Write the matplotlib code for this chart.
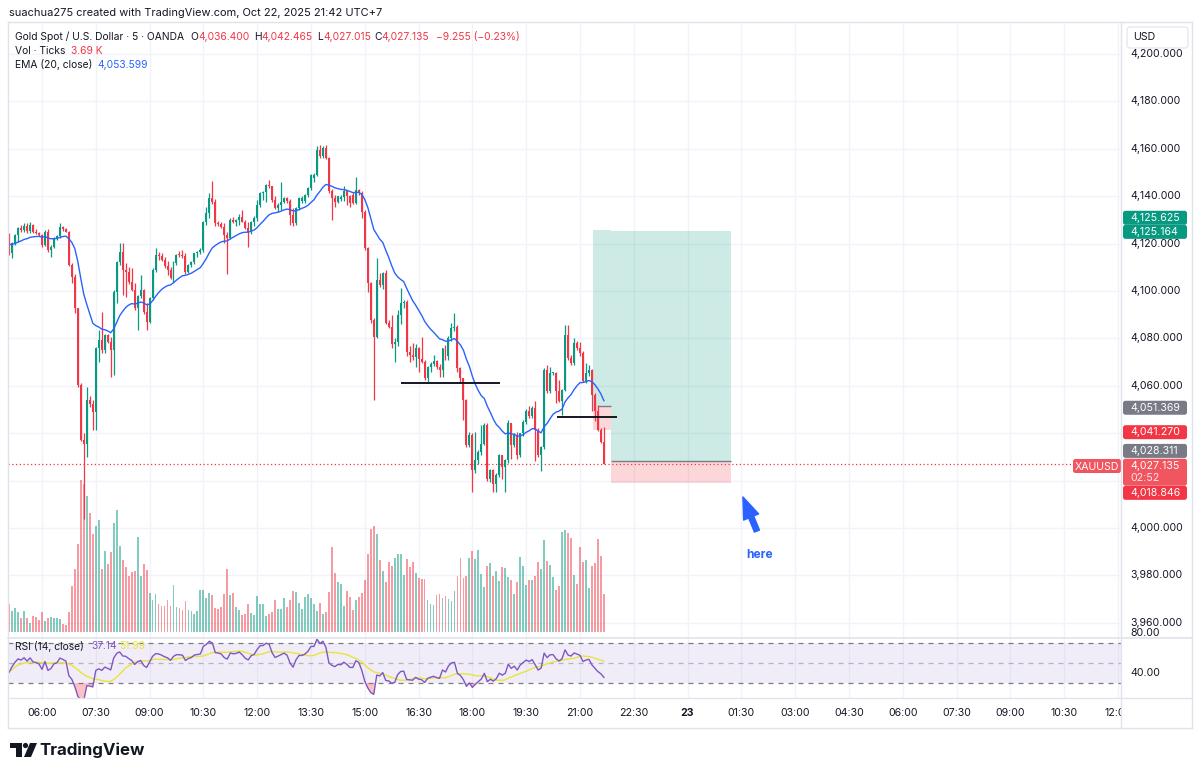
import numpy as np
import pandas as pd
import matplotlib
matplotlib.use('Agg')
import matplotlib.pyplot as plt
from matplotlib.patches import Rectangle, FancyBboxPatch, Circle, Polygon

plt.rcParams['font.family'] = ['Inter', 'DejaVu Sans']

# ---------------- data (XAUUSD 5m, OANDA, 22 Oct 2025, bars from 05:05) ----------------
opens = [4123.7, 4116.0, 4120.1, 4123.5, 4126.5, 4125.6, 4127.6, 4125.2, 4127.8, 4125.0,
         4124.4, 4123.5, 4119.5, 4125.0, 4117.3, 4118.7, 4122.3, 4123.2, 4127.2, 4126.2,
         4125.0, 4111.0, 4106.0, 4092.7, 4060.3, 4037.0, 4035.5, 4054.0, 4052.5, 4049.0,
         4075.8, 4079.3, 4075.1, 4081.4, 4078.6, 4075.1, 4099.7, 4112.4, 4116.6, 4108.9,
         4108.2, 4104.0, 4100.5, 4092.7, 4098.0, 4100.4, 4091.3, 4087.0, 4096.9, 4108.9,
         4115.2, 4114.8, 4113.0, 4110.5, 4109.0, 4105.4, 4112.0, 4115.2, 4115.0, 4114.6,
         4108.2, 4111.0, 4112.4, 4115.9, 4116.6, 4117.3, 4129.3, 4132.8, 4139.2, 4137.7,
         4128.6, 4128.2, 4127.2, 4123.7, 4122.3, 4130.0, 4129.3, 4129.8, 4131.4, 4129.3,
         4126.5, 4125.0, 4129.3, 4130.7, 4136.3, 4141.3, 4141.6, 4144.8, 4144.1, 4138.5,
         4134.9, 4136.3, 4137.7, 4139.2, 4137.8, 4132.1, 4128.6, 4134.9, 4138.0, 4138.0,
         4140.6, 4143.4, 4147.5, 4149.0, 4159.6, 4156.8, 4160.3, 4156.1, 4142.0, 4139.2,
         4137.7, 4139.0, 4139.6, 4142.0, 4140.0, 4140.5, 4137.0, 4142.7, 4141.3, 4133.5,
         4118.0, 4103.2, 4087.7, 4080.7, 4104.6, 4102.5, 4107.5, 4086.3, 4085.0, 4077.5,
         4078.6, 4089.9, 4094.8, 4095.5, 4074.4, 4073.0, 4072.0, 4075.8, 4071.5, 4070.1,
         4063.1, 4068.0, 4069.4, 4070.5, 4068.0, 4066.5, 4075.8, 4072.5, 4080.0, 4084.2,
         4084.9, 4067.3, 4063.1, 4053.9, 4035.0, 4039.2, 4024.4, 4028.6, 4032.1, 4035.6,
         4043.4, 4020.8, 4024.4, 4018.7, 4022.3, 4030.7, 4025.8, 4028.6, 4044.1, 4035.0,
         4039.2, 4030.7, 4039.9, 4044.8, 4049.5, 4047.1, 4050.6, 4041.5, 4030.9, 4034.0,
         4066.7, 4057.6, 4065.3, 4065.6, 4057.6, 4053.4, 4058.3, 4081.4, 4071.6, 4069.5,
         4077.9, 4075.8, 4073.7, 4062.0, 4065.3, 4066.7, 4056.2, 4049.2, 4041.5, 4036.4]
highs = [4124.5, 4120.5, 4124.0, 4127.2, 4128.0, 4128.6, 4128.6, 4129.0, 4128.2, 4126.0,
         4125.0, 4124.0, 4125.8, 4126.0, 4119.2, 4122.8, 4123.7, 4128.6, 4127.5, 4126.5,
         4125.3, 4112.0, 4107.0, 4093.0, 4061.0, 4040.0, 4059.6, 4055.5, 4054.0, 4076.5,
         4083.5, 4091.3, 4082.0, 4082.0, 4080.5, 4100.5, 4112.8, 4120.1, 4120.1, 4112.0,
         4110.0, 4109.6, 4103.5, 4098.3, 4106.8, 4101.0, 4095.0, 4097.5, 4109.5, 4118.0,
         4116.5, 4116.0, 4114.5, 4112.5, 4110.0, 4112.5, 4115.5, 4117.0, 4117.3, 4115.9,
         4111.5, 4112.5, 4116.0, 4117.0, 4118.0, 4129.5, 4135.6, 4141.5, 4146.5, 4139.0,
         4129.5, 4129.0, 4128.5, 4125.0, 4131.0, 4131.4, 4130.5, 4132.5, 4134.2, 4130.0,
         4129.3, 4129.5, 4131.5, 4138.5, 4141.8, 4142.0, 4145.0, 4147.0, 4144.5, 4140.0,
         4137.0, 4145.8, 4139.5, 4139.5, 4139.0, 4135.0, 4135.5, 4139.5, 4140.0, 4141.0,
         4143.8, 4149.5, 4150.0, 4161.0, 4161.7, 4161.0, 4161.7, 4156.5, 4143.0, 4140.6,
         4140.0, 4140.5, 4144.1, 4142.7, 4140.5, 4141.8, 4148.3, 4143.0, 4142.0, 4134.0,
         4118.5, 4104.0, 4088.5, 4113.8, 4107.5, 4108.2, 4109.0, 4087.7, 4090.0, 4080.0,
         4092.0, 4101.1, 4096.0, 4096.0, 4077.0, 4078.0, 4077.5, 4076.5, 4080.7, 4071.0,
         4068.5, 4070.0, 4073.0, 4071.0, 4069.0, 4076.0, 4077.2, 4081.0, 4086.3, 4090.6,
         4085.5, 4068.0, 4063.5, 4054.5, 4040.6, 4040.0, 4040.6, 4033.0, 4043.4, 4044.1,
         4044.5, 4025.0, 4025.0, 4023.0, 4031.4, 4031.0, 4029.3, 4045.5, 4044.5, 4040.0,
         4040.5, 4040.2, 4045.5, 4050.4, 4051.3, 4051.3, 4053.4, 4042.2, 4034.4, 4067.5,
         4068.8, 4068.1, 4066.0, 4066.0, 4062.5, 4058.5, 4085.6, 4085.6, 4073.0, 4080.0,
         4079.0, 4078.6, 4074.5, 4069.5, 4068.8, 4067.0, 4057.0, 4052.0, 4042.0, 4042.465]
lows = [4115.0, 4114.1, 4119.5, 4120.8, 4125.0, 4125.0, 4124.5, 4124.5, 4124.5, 4124.0,
        4123.0, 4118.5, 4119.0, 4116.6, 4114.5, 4118.0, 4121.5, 4122.5, 4125.5, 4124.7,
        4110.5, 4103.2, 4090.6, 4059.5, 4036.5, 4004.0, 4030.0, 4051.0, 4041.3, 4041.3,
        4070.0, 4074.0, 4074.0, 4078.0, 4063.8, 4064.5, 4094.8, 4111.0, 4098.3, 4097.6,
        4103.0, 4100.0, 4092.0, 4083.5, 4097.0, 4090.5, 4083.5, 4086.5, 4096.0, 4108.0,
        4113.0, 4112.5, 4109.5, 4106.8, 4105.0, 4104.0, 4111.0, 4114.5, 4114.0, 4107.0,
        4107.5, 4110.0, 4111.5, 4114.5, 4115.5, 4116.5, 4128.0, 4131.0, 4136.5, 4127.5,
        4127.5, 4126.5, 4120.1, 4107.0, 4122.0, 4128.6, 4127.5, 4128.0, 4129.0, 4126.0,
        4118.7, 4124.0, 4127.5, 4129.5, 4135.5, 4138.5, 4137.5, 4143.5, 4137.5, 4134.5,
        4133.5, 4134.0, 4137.0, 4137.2, 4127.9, 4127.5, 4128.0, 4134.0, 4137.0, 4137.0,
        4139.5, 4142.5, 4146.0, 4148.5, 4156.0, 4156.0, 4155.5, 4141.5, 4130.0, 4135.6,
        4137.0, 4138.0, 4138.0, 4136.3, 4135.6, 4136.5, 4136.5, 4140.5, 4130.7, 4117.5,
        4099.7, 4086.5, 4054.0, 4080.0, 4101.5, 4101.0, 4086.0, 4084.2, 4076.0, 4070.1,
        4077.0, 4086.0, 4093.0, 4072.5, 4070.1, 4071.0, 4068.0, 4066.0, 4069.5, 4062.5,
        4061.7, 4066.0, 4068.5, 4067.0, 4063.8, 4063.8, 4071.0, 4071.0, 4079.0, 4083.0,
        4066.0, 4061.7, 4045.5, 4034.0, 4034.0, 4015.2, 4023.0, 4027.0, 4031.0, 4035.0,
        4020.0, 4019.5, 4015.2, 4015.2, 4021.5, 4020.8, 4015.2, 4027.5, 4029.3, 4034.0,
        4029.3, 4030.0, 4039.0, 4044.0, 4046.5, 4046.4, 4028.1, 4030.0, 4023.9, 4033.5,
        4057.0, 4057.0, 4064.6, 4052.7, 4053.0, 4047.8, 4058.0, 4071.0, 4068.8, 4068.8,
        4075.0, 4072.5, 4061.8, 4061.0, 4064.0, 4049.2, 4045.0, 4040.8, 4036.0, 4027.015]
closes = [4116.0, 4120.1, 4123.7, 4126.5, 4125.6, 4127.6, 4125.2, 4127.8, 4125.0, 4124.4,
          4123.5, 4119.5, 4125.0, 4117.3, 4118.7, 4122.3, 4123.2, 4127.2, 4126.2, 4125.0,
          4111.0, 4106.0, 4092.7, 4060.3, 4037.0, 4035.5, 4054.0, 4052.5, 4049.0, 4075.8,
          4079.3, 4075.1, 4081.4, 4078.6, 4075.1, 4099.7, 4112.4, 4116.6, 4108.9, 4108.2,
          4104.0, 4100.5, 4092.7, 4098.0, 4100.4, 4091.3, 4087.0, 4096.9, 4108.9, 4115.2,
          4114.8, 4113.0, 4110.5, 4109.0, 4105.4, 4112.0, 4115.2, 4115.0, 4114.6, 4108.2,
          4111.0, 4112.4, 4115.9, 4116.6, 4117.3, 4129.3, 4132.8, 4139.2, 4137.7, 4128.6,
          4128.2, 4127.2, 4123.7, 4122.3, 4130.0, 4129.3, 4129.8, 4131.4, 4129.3, 4126.5,
          4125.0, 4129.3, 4130.7, 4136.3, 4141.3, 4141.6, 4144.8, 4144.1, 4138.5, 4134.9,
          4136.3, 4137.7, 4139.2, 4137.8, 4132.1, 4128.6, 4134.9, 4139.2, 4139.2, 4140.6,
          4143.4, 4149.0, 4149.0, 4159.6, 4156.8, 4160.3, 4156.1, 4142.0, 4139.2, 4137.7,
          4139.9, 4139.6, 4142.0, 4140.0, 4137.0, 4137.0, 4142.7, 4141.3, 4133.5, 4118.0,
          4103.2, 4087.7, 4080.7, 4104.6, 4102.5, 4107.5, 4086.3, 4085.0, 4077.5, 4078.6,
          4089.9, 4094.8, 4095.5, 4074.4, 4073.0, 4072.0, 4075.8, 4071.5, 4070.1, 4063.1,
          4068.0, 4069.4, 4070.5, 4068.0, 4066.5, 4075.8, 4072.5, 4080.0, 4084.2, 4084.9,
          4067.3, 4063.1, 4053.9, 4035.0, 4039.2, 4024.4, 4028.6, 4032.1, 4035.6, 4043.4,
          4020.8, 4024.4, 4018.7, 4022.3, 4030.7, 4025.8, 4028.6, 4044.1, 4035.0, 4039.2,
          4030.7, 4039.9, 4044.8, 4049.5, 4047.1, 4050.6, 4041.5, 4030.9, 4034.0, 4066.7,
          4057.6, 4065.3, 4065.6, 4057.6, 4053.4, 4058.3, 4081.4, 4071.6, 4069.5, 4077.9,
          4075.8, 4073.7, 4062.0, 4065.3, 4066.7, 4056.2, 4049.2, 4041.5, 4036.4, 4027.135]
volumes = [2729, 2022, 2279, 1958, 1316, 2054, 1316, 899, 1509, 1412,
           1124, 1894, 1027, 1316, 1477, 1316, 1316, 1220, 803, 642,
           1958, 4430, 6035, 8474, 14606, 14285, 13065, 11492, 9405, 10208,
           10754, 6035, 7832, 6581, 7672, 10529, 11717, 8250, 6902, 6260,
           5425, 5746, 5842, 9149, 5361, 6516, 5939, 3756, 3050, 3692,
           2729, 2472, 2536, 3114, 2536, 4526, 2375, 2311, 2151, 2953,
           2151, 2054, 1701, 2022, 4013, 4013, 3242, 3756, 3531, 2311,
           2183, 2375, 3627, 6099, 3563, 3788, 2375, 2151, 1637, 1766,
           2696, 1798, 1605, 3435, 2696, 2696, 1509, 1766, 1894, 3050,
           2183, 2183, 3242, 2408, 3050, 3916, 3820, 2793, 2215, 3371,
           3692, 3274, 2696, 2022, 2793, 1701, 1894, 3852, 8153, 5682,
           4783, 4590, 2536, 3948, 3371, 2151, 3114, 3403, 3724, 5040,
           7511, 9951, 10208, 9405, 6902, 5842, 4783, 6741, 6356, 7158,
           7479, 7479, 5457, 6998, 6292, 6709, 5682, 5232, 5136, 5072,
           3050, 2664, 2632, 3595, 3627, 3274, 3435, 3146, 2985, 3916,
           5425, 7158, 5200, 5425, 7094, 7768, 6998, 7897, 5553, 4366,
           6324, 6677, 5361, 5842, 4879, 6260, 6163, 5264, 5008, 3627,
           4783, 7255, 6324, 4526, 4976, 5008, 5425, 6773, 6035, 8892,
           6837, 6484, 5329, 4045, 4430, 9598, 9791, 9566, 9052, 5521,
           4622, 8153, 6741, 6902, 4237, 6324, 6677, 8924, 7351, 3692]

time_labels = ["06:00", "07:30", "09:00", "10:30", "12:00", "13:30", "15:00", "16:30",
               "18:00", "19:30", "21:00", "22:30", "23", "01:30", "03:00", "04:30",
               "06:00", "07:30", "09:00", "10:30", "12:00"]
time_label_bars = [11, 29, 47, 65, 83, 101, 119, 137, 155, 173, 191, 209, 227, 245,
                   263, 281, 299, 317, 335, 353, 371]
price_ticks = [3960, 3980, 4000, 4020, 4040, 4060, 4080, 4100, 4120, 4140, 4160, 4180, 4200]
rsi_ticks = [80, 40]

ema_seed = 4120.0          # EMA value at the left edge
rsi_seed_gain, rsi_seed_loss = 1.3, 1.3

# long-position tools
pos1 = dict(start=195.4, end=201.4, entry=4051.369, stop=4041.270, target=4125.625)
pos2 = dict(start=201.4, end=241.5, entry=4028.311, stop=4018.846, target=4125.164)
last_price = 4027.135
hlines_user = [(131.1, 164.2, 4061.0), (183.2, 203.3, 4046.8)]
arrow_tail = (250.2, 3998.7)
arrow_head = (245.5, 4013.1)
here_pos = (251.2, 3988.6)

# ---------------- indicators ----------------
o = np.array(opens); h = np.array(highs); l = np.array(lows); c = np.array(closes)
v = np.array(volumes, dtype=float)
n = len(c)
idx = np.arange(n)
alpha = 2 / 21
ema = np.empty(n)
prev = ema_seed
for i in range(n):
    prev = alpha * c[i] + (1 - alpha) * prev
    ema[i] = prev
ag, al = rsi_seed_gain, rsi_seed_loss
rsi = np.empty(n)
for i in range(n):
    d = c[i] - (c[i - 1] if i > 0 else o[0])
    ag = (ag * 13 + max(d, 0)) / 14
    al = (al * 13 + max(-d, 0)) / 14
    rsi[i] = 100 - 100 / (1 + ag / al)
rsi_ma = pd.Series(rsi).rolling(14, min_periods=1).mean().values

# ---------------- layout (pixel geometry) ----------------
W, H = 1200, 776
BAR0_PX, BAR_PX = 9.1, 2.989
PX_PER_PRICE, P_REF, Y_REF = 2.37, 4200.0, 54.0
L_PX, R_PX, T_PX, MAIN_B, RSI_B, TIME_B, AXIS_R = 8, 1121, 22, 637, 698, 728, 1192

def px2bar(x): return (x - BAR0_PX) / BAR_PX
def py2price(y): return P_REF - (y - Y_REF) / PX_PER_PRICE
def price2py(p): return Y_REF + (P_REF - p) * PX_PER_PRICE

fig = plt.figure(figsize=(W / 100, H / 100), dpi=100)
fig.patch.set_facecolor('white')

def add_px_axes(x0, y0, x1, y1, z=0):
    a = fig.add_axes([x0 / W, 1 - y1 / H, (x1 - x0) / W, (y1 - y0) / H])
    a.set_zorder(z)
    a.patch.set_visible(False)
    for s in a.spines.values():
        s.set_visible(False)
    a.set_xticks([]); a.set_yticks([])
    return a

XL, XR = px2bar(L_PX), px2bar(R_PX)
PB, PT = py2price(MAIN_B), py2price(T_PX)

GREEN, RED = '#089981', '#f23645'
TXT = '#131722'
GRID = '#f0f3fa'
FS = 7.4
FS_AX = 7.6

# grid axes
ax_g = add_px_axes(L_PX, T_PX, R_PX, MAIN_B, z=0)
ax_g.set_xlim(XL, XR); ax_g.set_ylim(PB, PT)
for p in price_ticks:
    ax_g.axhline(p, color=GRID, lw=1)
for b in time_label_bars:
    ax_g.axvline(b, color=GRID, lw=1)

# volume axes
ax_v = add_px_axes(L_PX, T_PX, R_PX, MAIN_B, z=1)
ax_v.set_xlim(XL, XR)
VOL_PER_PX = 96.3
ax_v.set_ylim(-(MAIN_B - 632) * VOL_PER_PX, (632 - T_PX) * VOL_PER_PX)
up = c >= o
vcol = np.where(up, GREEN, RED)
ax_v.bar(idx, v, width=0.62, color=vcol, alpha=0.5, linewidth=0)

# price axes
ax = add_px_axes(L_PX, T_PX, R_PX, MAIN_B, z=2)
ax.set_xlim(XL, XR); ax.set_ylim(PB, PT)

# position tools
for pos in (pos1, pos2):
    ax.add_patch(Rectangle((pos['start'], pos['entry']), pos['end'] - pos['start'],
                           pos['target'] - pos['entry'], fc=GREEN, alpha=0.2, lw=0, zorder=1))
    ax.add_patch(Rectangle((pos['start'], pos['stop']), pos['end'] - pos['start'],
                           pos['entry'] - pos['stop'], fc=RED, alpha=0.2, lw=0, zorder=1))
    ax.hlines(pos['entry'], pos['start'] + 1.5 if pos is pos1 else pos['start'], pos['end'],
              color='#787b86', lw=1, zorder=2)

# candles
ccol = np.where(up, GREEN, RED)
ax.vlines(idx, l, h, colors=ccol, lw=0.9, zorder=3)
body = np.maximum(np.abs(c - o), 0.45)
ax.bar(idx, body, bottom=np.minimum(o, c), width=0.66, color=ccol, linewidth=0, zorder=4)

# EMA
ax.plot(idx, ema, color='#2962ff', lw=1, zorder=5)

# user lines
for x0, x1, p in hlines_user:
    ax.hlines(p, x0, x1, color=TXT, lw=1.4, zorder=6)

# last price dotted line
ax.axhline(last_price, color=RED, lw=0.9, ls=(0, (1, 2)), zorder=2)

# arrow + note
ax.annotate('', xy=arrow_head, xytext=arrow_tail,
            arrowprops=dict(arrowstyle='simple,head_length=1.2,head_width=0.9,tail_width=0.3',
                            color='#2962ff', shrinkA=0, shrinkB=0, mutation_scale=13), zorder=7)
ax.text(here_pos[0], here_pos[1], 'here', color='#2962ff', fontsize=8.6, fontweight='bold',
        ha='center', va='center', zorder=7)

# ---------------- RSI pane ----------------
ax_r = add_px_axes(L_PX, MAIN_B + 1, R_PX, RSI_B, z=2)
ax_r.set_xlim(XL, XR)
ax_r.set_ylim(70 - (RSI_B - 643), 70 + (643 - (MAIN_B + 1)))
for b in time_label_bars:
    ax_r.axvline(b, color=GRID, lw=1, zorder=0)
ax_r.axhspan(30, 70, color='#7e57c2', alpha=0.1, lw=0, zorder=1)
for lev, al_ in ((70, 1.0), (50, 0.5), (30, 1.0)):
    ax_r.axhline(lev, color='#787b86', lw=0.9, ls=(0, (4, 4)), alpha=al_, zorder=2)
ax_r.fill_between(idx, rsi, 30, where=rsi < 30, interpolate=True, color=RED, alpha=0.3, lw=0, zorder=2)
ax_r.fill_between(idx, rsi, 70, where=rsi > 70, interpolate=True, color=GREEN, alpha=0.3, lw=0, zorder=2)
ax_r.plot(idx, rsi_ma, color='#e8e43c', lw=1, zorder=3)
ax_r.plot(idx, rsi, color='#7e57c2', lw=1, zorder=4)

# ---------------- time axis ----------------
ax_t = add_px_axes(L_PX, RSI_B, R_PX, TIME_B, z=2)
ax_t.set_xlim(XL, XR); ax_t.set_ylim(0, 1)
for b, lab in zip(time_label_bars, time_labels):
    ax_t.text(b, 0.5, lab, ha='center', va='center', fontsize=FS_AX, color=TXT,
              fontweight='bold' if lab == '23' else 'normal', clip_on=True)

# ---------------- price scale ----------------
ax_p = add_px_axes(R_PX, T_PX, AXIS_R, MAIN_B, z=3)
ax_p.set_xlim(R_PX, AXIS_R); ax_p.set_ylim(PB, PT)

box_spans = []   # pixel y-ranges covered by coloured price tags

def price_box(price, text, fc, dy_px=0, h_px=14, sub=None):
    cy = price - dy_px / PX_PER_PRICE
    hp = h_px / PX_PER_PRICE
    bot = cy - hp / 2
    if sub is not None:
        bot -= 13 / PX_PER_PRICE
        hp += 13 / PX_PER_PRICE
    box_spans.append((price2py(bot + hp), price2py(bot)))
    ax_p.add_patch(FancyBboxPatch((1123, bot), 64, hp, boxstyle='round,pad=0,rounding_size=2.5',
                                  mutation_aspect=1 / PX_PER_PRICE, fc=fc, ec='none', zorder=5))
    ax_p.text(1130, cy, text, ha='left', va='center', fontsize=FS_AX, color='white', zorder=6)
    if sub is not None:
        ax_p.text(1130, cy - 12.5 / PX_PER_PRICE, sub, ha='left', va='center', fontsize=FS_AX,
                  color='white', alpha=0.85, zorder=6)

price_box(pos1['target'], f"{pos1['target']:,.3f}", GREEN, dy_px=-12.5)
price_box(pos2['target'], f"{pos2['target']:,.3f}", GREEN, dy_px=0.5)
price_box(pos1['entry'], f"{pos1['entry']:,.3f}", '#787b86', dy_px=1.5)
price_box(pos1['stop'], f"{pos1['stop']:,.3f}", RED, dy_px=2.0)
price_box(pos2['entry'], f"{pos2['entry']:,.3f}", '#787b86', dy_px=-10)
price_box(last_price, f"{last_price:,.3f}", '#f05560', dy_px=2.0, sub='02:52')
price_box(pos2['stop'], f"{pos2['stop']:,.3f}", RED, dy_px=9.5)

# tick labels (those hidden under a price tag are not drawn, as on the platform)
for p in price_ticks:
    y = price2py(p)
    hidden = any(top - 3 < y < bot + 3 for top, bot in box_spans)
    if not hidden:
        ax_p.text(1130, p, f'{p:,.3f}', ha='left', va='center', fontsize=FS_AX, color=TXT, zorder=3)

# USD box
ax_p.add_patch(FancyBboxPatch((1127, py2price(48)), 61, 21 / PX_PER_PRICE,
                              boxstyle='round,pad=0,rounding_size=3', mutation_aspect=1 / PX_PER_PRICE,
                              fc='white', ec='#e0e3eb', lw=0.8, zorder=7))
ax_p.text(1133, py2price(37.5), 'USD', ha='left', va='center', fontsize=FS_AX, color=TXT, zorder=8)

# RSI scale
ax_rp = add_px_axes(R_PX, MAIN_B + 1, AXIS_R, RSI_B, z=1)
ax_rp.set_xlim(R_PX, AXIS_R)
ax_rp.set_ylim(70 - (RSI_B - 643), 70 + (643 - (MAIN_B + 1)))
for t in rsi_ticks:
    ax_rp.text(1130, t, f'{t:.2f}', ha='left', va='center', fontsize=FS_AX, color=TXT)

# ---------------- overlay: frame, legends, labels ----------------
ov = fig.add_axes([0, 0, 1, 1]); ov.set_zorder(10); ov.patch.set_visible(False)
ov.set_xlim(0, W); ov.set_ylim(H, 0); ov.axis('off')
FR = '#e0e3eb'
ov.plot([L_PX, AXIS_R], [T_PX, T_PX], color=FR, lw=1)
ov.plot([L_PX, AXIS_R], [TIME_B, TIME_B], color=FR, lw=1)
ov.plot([L_PX, L_PX], [T_PX, TIME_B], color=FR, lw=1)
ov.plot([AXIS_R, AXIS_R], [T_PX, TIME_B], color=FR, lw=1)
ov.plot([R_PX, R_PX], [T_PX, TIME_B], color=FR, lw=1)
ov.plot([L_PX, AXIS_R], [MAIN_B + 0.5, MAIN_B + 0.5], color=FR, lw=1.2)
ov.plot([L_PX, AXIS_R], [RSI_B, RSI_B], color=FR, lw=1)

# XAUUSD tag
ov.add_patch(FancyBboxPatch((1073, 459), 48, 14, boxstyle='round,pad=0,rounding_size=2.5',
                            fc='#f05560', ec='none'))
ov.text(1097, 466.5, 'XAUUSD', ha='center', va='center', fontsize=FS_AX, color='white')

ov.text(9, 13, 'suachua275 created with TradingView.com, Oct 22, 2025 21:42 UTC+7',
        ha='left', va='center', fontsize=7.95, color=TXT)

def seg(x, y, s, col):
    ov.text(x, y, s, ha='left', va='center', fontsize=FS, color=col)

seg(15, 37, 'Gold Spot / U.S. Dollar · 5 · OANDA', TXT)
seg(190, 37, 'O', TXT); seg(198.5, 37, '4,036.400', RED)
seg(254, 37, 'H', TXT); seg(261.5, 37, '4,042.465', RED)
seg(317, 37, 'L', TXT); seg(323.5, 37, '4,027.015', RED)
seg(374, 37, 'C', TXT); seg(381.5, 37, '4,027.135', RED)
seg(436, 37, '−9.255 (−0.23%)', RED)
seg(15, 51, 'Vol · Ticks', TXT); seg(71, 51, '3.69 K', RED)
seg(15, 65, 'EMA (20, close)', TXT); seg(97, 65, '4,053.599', '#2962ff')
seg(15, 646, 'RSI (14, close)', TXT); seg(91, 646, '37.14', '#7e57c2'); seg(119, 646, '51.99', '#e8e43c')

# TradingView logo
ov.add_patch(Polygon([(10, 743), (22, 743), (22, 757), (16, 757), (16, 748), (10, 748)],
                     closed=True, fc=TXT, ec='none'))
ov.add_patch(Circle((25.5, 745.5), 2.6, fc=TXT, ec='none'))
ov.add_patch(Polygon([(30, 743), (37, 743), (31, 757), (24, 757)], closed=True, fc=TXT, ec='none'))
ov.text(39, 750, 'TradingView', ha='left', va='center', fontsize=12.2, fontweight='bold', color=TXT)

fig.savefig('out.png', dpi=100, facecolor='white')
